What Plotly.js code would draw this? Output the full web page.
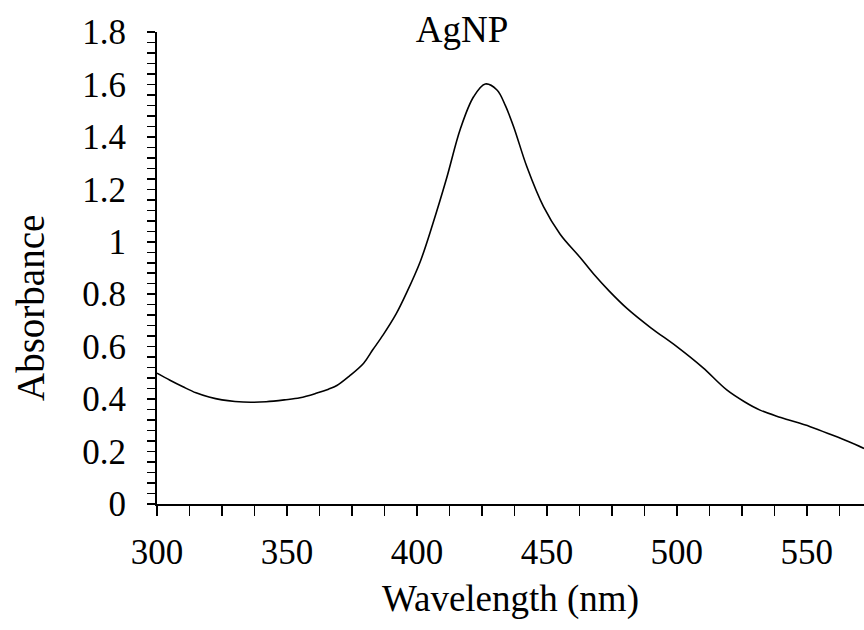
<!DOCTYPE html>
<html>
<head>
<meta charset="utf-8">
<script src="https://cdn.plot.ly/plotly-3.0.1.min.js"></script>
<style>html,body{margin:0;padding:0;background:#fff;}#chart{width:864px;height:630px;}</style>
</head>
<body>
<div id="chart"></div>
<script>
const wavelength = [300, 305, 310, 315, 320, 325, 330, 336, 342, 349, 355, 361.5, 366, 369.2, 374, 379.5, 383, 387, 392, 396, 401.3, 406, 411.5, 416.7, 421.8, 426.3, 430.8, 434, 437.2, 442.3, 448.7, 455.1, 462.8, 467.9, 474, 480.8, 490, 500, 510, 519.2, 526, 532, 540, 551.3, 560, 566, 572];
const absorbance = [0.499, 0.472, 0.447, 0.424, 0.408, 0.397, 0.391, 0.388, 0.390, 0.397, 0.405, 0.423, 0.438, 0.452, 0.488, 0.537, 0.588, 0.645, 0.725, 0.805, 0.925, 1.065, 1.245, 1.430, 1.553, 1.602, 1.579, 1.520, 1.439, 1.286, 1.134, 1.029, 0.940, 0.878, 0.812, 0.746, 0.672, 0.600, 0.520, 0.435, 0.390, 0.358, 0.330, 0.295, 0.262, 0.238, 0.212];

const chartTitle = "AgNP";
const xTitle = "Wavelength (nm)";
const yTitle = "Absorbance";

const font = "Liberation Serif, Times New Roman, serif";

Plotly.newPlot("chart", [{
  x: wavelength,
  y: absorbance,
  type: "scatter",
  mode: "lines",
  line: {color: "#000", width: 1.6, shape: "spline", smoothing: 1},
  hoverinfo: "none"
}], {
  width: 864,
  height: 630,
  margin: {l: 157, r: 0, t: 32, b: 126},
  paper_bgcolor: "#fff",
  plot_bgcolor: "#fff",
  showlegend: false,
  font: {family: font, color: "#000", size: 35},
  title: {text: chartTitle, font: {family: font, size: 37, color: "#000"},
          x: (462 - 157) / 707, xanchor: "center", xref: "paper", yref: "container", y: 1 - 29/630, yanchor: "middle"},
  xaxis: {
    range: [300, 572],
    dtick: 50, tick0: 300,
    ticks: "outside", ticklen: 10, tickwidth: 1.5, tickcolor: "#000",
    minor: {dtick: 12.5, tick0: 300, ticks: "outside", ticklen: 10, tickwidth: 1.5, tickcolor: "#000", showgrid: false},
    showline: true, linecolor: "#000", linewidth: 2,
    showgrid: false, zeroline: false,
    tickfont: {family: font, size: 35, color: "#000"},
    ticklabelstandoff: 6,
    title: {text: xTitle, font: {family: font, size: 37, color: "#000"}, standoff: 14}
  },
  yaxis: {
    range: [0, 1.8],
    dtick: 0.2, tick0: 0,
    ticks: "outside", ticklen: 8, tickwidth: 1.5, tickcolor: "#000",
    minor: {dtick: 0.04, tick0: 0, ticks: "outside", ticklen: 8, tickwidth: 1.5, tickcolor: "#000", showgrid: false},
    showline: true, linecolor: "#000", linewidth: 2,
    showgrid: false, zeroline: false,
    tickfont: {family: font, size: 35, color: "#000"},
    ticklabelstandoff: 14
  },
  annotations: [{
    text: yTitle, xref: "paper", yref: "paper",
    x: (30 - 157) / (864 - 157), y: (504 - 308) / 472,
    xanchor: "center", yanchor: "middle", textangle: -90, showarrow: false,
    font: {family: font, size: 39, color: "#000"}
  }]
}, {staticPlot: true});
</script>
</body>
</html>
